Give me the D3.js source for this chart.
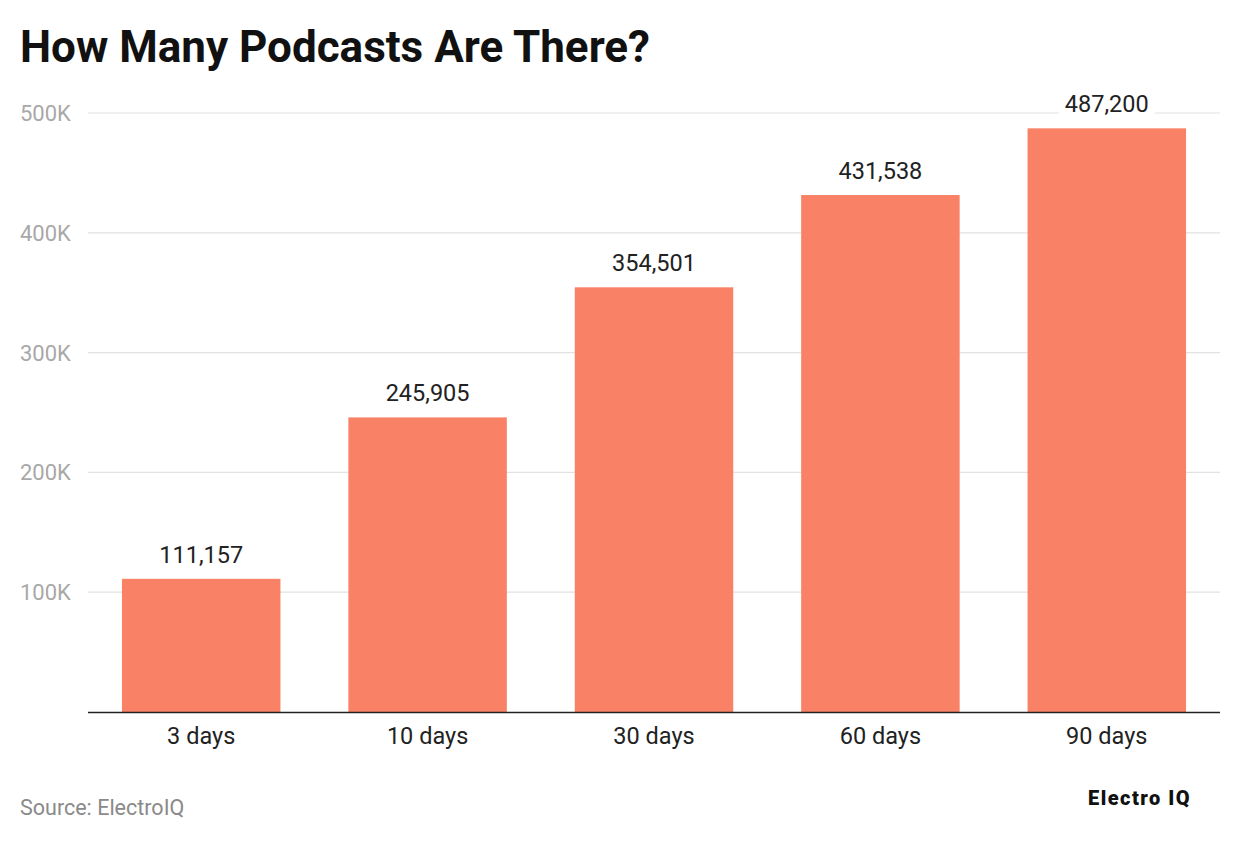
<!DOCTYPE html>
<html><head><meta charset="utf-8">
<script src="https://cdn.jsdelivr.net/npm/d3@7"></script>
<style>body{margin:0;background:#fff;font-family:Roboto,sans-serif}</style>
</head><body>
<script>
const categories = ["3 days", "10 days", "30 days", "60 days", "90 days"];
const values = [111157, 245905, 354501, 431538, 487200];
const ticks = [100000, 200000, 300000, 400000, 500000];

const W = 1240, H = 844;
const svg = d3.select("body").append("svg").attr("width", W).attr("height", H);

const x = d3.scaleBand().domain(categories).range([88, 1220]).paddingInner(0.3).paddingOuter(0.15);
const y = d3.scaleLinear().domain([0, 500000]).range([712, 113]);

svg.append("text").attr("x", 20).attr("y", 62).attr("font-size", 44).attr("font-weight", 700)
  .attr("fill", "#111").text("How Many Podcasts Are There?");

// grid
svg.selectAll(".grid").data(ticks).enter().append("line")
  .attr("x1", 88).attr("x2", 1220).attr("y1", d => y(d)).attr("y2", d => y(d))
  .attr("stroke", "#e2e2e2").attr("stroke-width", 1.2);
svg.selectAll(".tick").data(ticks).enter().append("text")
  .attr("x", 20).attr("y", d => y(d) + 8).attr("font-size", 22).attr("fill", "#a8a8a8")
  .text(d => d / 1000 + "K");

// bars
svg.selectAll(".bar").data(values).enter().append("rect")
  .attr("x", (d, i) => x(categories[i])).attr("width", x.bandwidth())
  .attr("y", d => y(d)).attr("height", d => y(0) - y(d)).attr("fill", "#f98266");

svg.append("line").attr("x1", 88).attr("x2", 1220).attr("y1", 712.5).attr("y2", 712.5)
  .attr("stroke", "#222").attr("stroke-width", 1.5);

// value labels
const lab = svg.selectAll(".val").data(values).enter().append("g")
  .attr("transform", (d, i) => `translate(${x(categories[i]) + x.bandwidth() / 2},${y(d) - 16})`);
lab.append("rect").attr("x", -48).attr("y", -21).attr("width", 96).attr("height", 28).attr("fill", "#fff");
lab.append("text").attr("text-anchor", "middle").attr("font-size", 23.5).attr("fill", "#222")
  .text(d => d3.format(",")(d));

svg.selectAll(".cat").data(categories).enter().append("text")
  .attr("x", d => x(d) + x.bandwidth() / 2).attr("y", 744).attr("text-anchor", "middle")
  .attr("font-size", 23.5).attr("fill", "#222").text(d => d);

svg.append("text").attr("x", 20).attr("y", 815).attr("font-size", 21.5).attr("fill", "#8a8a8a").text("Source: ElectroIQ");
svg.append("text").attr("x", 1088).attr("y", 805).attr("font-size", 20).attr("font-weight", 900)
  .attr("letter-spacing", 1.5).attr("fill", "#111").text("Electro IQ");
</script>
</body></html>
